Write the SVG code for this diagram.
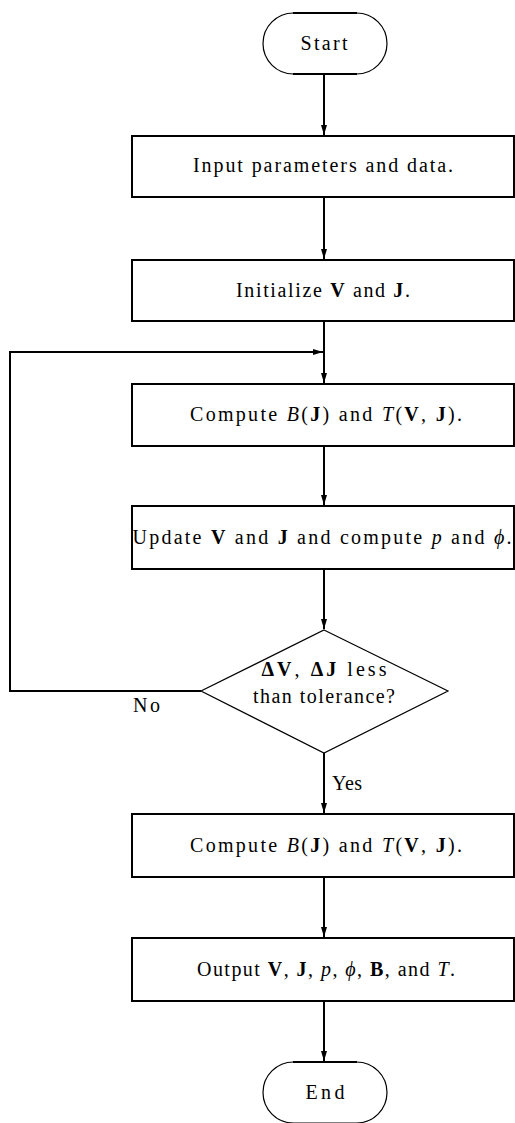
<svg xmlns="http://www.w3.org/2000/svg" width="515" height="1123" viewBox="0 0 515 1123">
<style>
text{font-family:"Liberation Serif","DejaVu Serif",serif;font-size:20px;fill:#000;text-anchor:middle}
.b{font-weight:bold}
.i{font-style:italic}
.box{fill:#fff;stroke:#000;stroke-width:2}
.term{fill:#fff;stroke:#000;stroke-width:1.2}
.edge{fill:none;stroke:#000;stroke-width:2}
.lbl{text-anchor:start}
</style>
<defs>
<marker id="ah" viewBox="0 0 10 8" refX="10" refY="4" markerWidth="10" markerHeight="8" markerUnits="userSpaceOnUse" orient="auto">
<path d="M0,1 L10,4 L0,7 Z" fill="#000"/>
</marker>
</defs>
<g id="connectors">
<line class="edge" x1="324" y1="74" x2="324" y2="135" marker-end="url(#ah)"/>
<line class="edge" x1="324" y1="197" x2="324" y2="259" marker-end="url(#ah)"/>
<line class="edge" x1="324" y1="321" x2="324" y2="383" marker-end="url(#ah)"/>
<line class="edge" x1="324" y1="446" x2="324" y2="505" marker-end="url(#ah)"/>
<line class="edge" x1="324" y1="569" x2="324" y2="629" marker-end="url(#ah)"/>
<polyline class="edge" points="201,691 10,691 10,352 323,352" marker-end="url(#ah)"/>
<line class="edge" x1="324" y1="753" x2="324" y2="813" marker-end="url(#ah)"/>
<line class="edge" x1="324" y1="877" x2="324" y2="937" marker-end="url(#ah)"/>
<line class="edge" x1="324" y1="1001" x2="324" y2="1061" marker-end="url(#ah)"/>
<text class="lbl" x="133" y="712" textLength="27">No</text>
<text class="lbl" x="332" y="790" textLength="30">Yes</text>
</g>
<g id="start">
<rect class="term" x="263" y="13" width="124" height="61" rx="30.5"/>
<line x1="293" y1="13" x2="357" y2="13" stroke="#000" stroke-width="2"/>
<line x1="293" y1="74" x2="357" y2="74" stroke="#000" stroke-width="2"/>
<text x="324" y="50" textLength="47">Start</text>
</g>
<g id="input">
<rect class="box" x="132" y="136" width="382" height="61"/>
<text x="323" y="172" textLength="260">Input parameters and data.</text>
</g>
<g id="init">
<rect class="box" x="132" y="260" width="382" height="61"/>
<text x="323" y="297" textLength="174">Initialize <tspan class="b">V</tspan> and <tspan class="b">J</tspan>.</text>
</g>
<g id="compute1">
<rect class="box" x="132" y="384" width="382" height="62"/>
<text x="326" y="421" textLength="272">Compute <tspan class="i">B</tspan>(<tspan class="b">J</tspan>) and <tspan class="i">T</tspan>(<tspan class="b">V</tspan>, <tspan class="b">J</tspan>).</text>
</g>
<g id="update">
<rect class="box" x="132" y="506" width="382" height="63"/>
<text x="322" y="544" textLength="379">Update <tspan class="b">V</tspan> and <tspan class="b">J</tspan> and compute <tspan class="i">p</tspan> and <tspan class="i">ϕ</tspan>.</text>
</g>
<g id="decision">
<polygon class="term" points="324,630 448,691 324,753 201,691"/>
<text x="324" y="676" textLength="125"><tspan class="b">ΔV</tspan>, <tspan class="b">ΔJ</tspan> less</text>
<text x="324" y="703" textLength="142">than tolerance?</text>
</g>
<g id="compute2">
<rect class="box" x="132" y="814" width="382" height="63"/>
<text x="326" y="852" textLength="272">Compute <tspan class="i">B</tspan>(<tspan class="b">J</tspan>) and <tspan class="i">T</tspan>(<tspan class="b">V</tspan>, <tspan class="b">J</tspan>).</text>
</g>
<g id="output">
<rect class="box" x="132" y="938" width="382" height="63"/>
<text x="326" y="976" textLength="258">Output <tspan class="b">V</tspan>, <tspan class="b">J</tspan>, <tspan class="i">p</tspan>, <tspan class="i">ϕ</tspan>, <tspan class="b">B</tspan>, and <tspan class="i">T</tspan>.</text>
</g>
<g id="end">
<rect class="term" x="263" y="1062" width="124" height="61" rx="30.5"/>
<line x1="293" y1="1062" x2="357" y2="1062" stroke="#000" stroke-width="2"/>
<text x="325" y="1099" textLength="39">End</text>
</g>
</svg>
